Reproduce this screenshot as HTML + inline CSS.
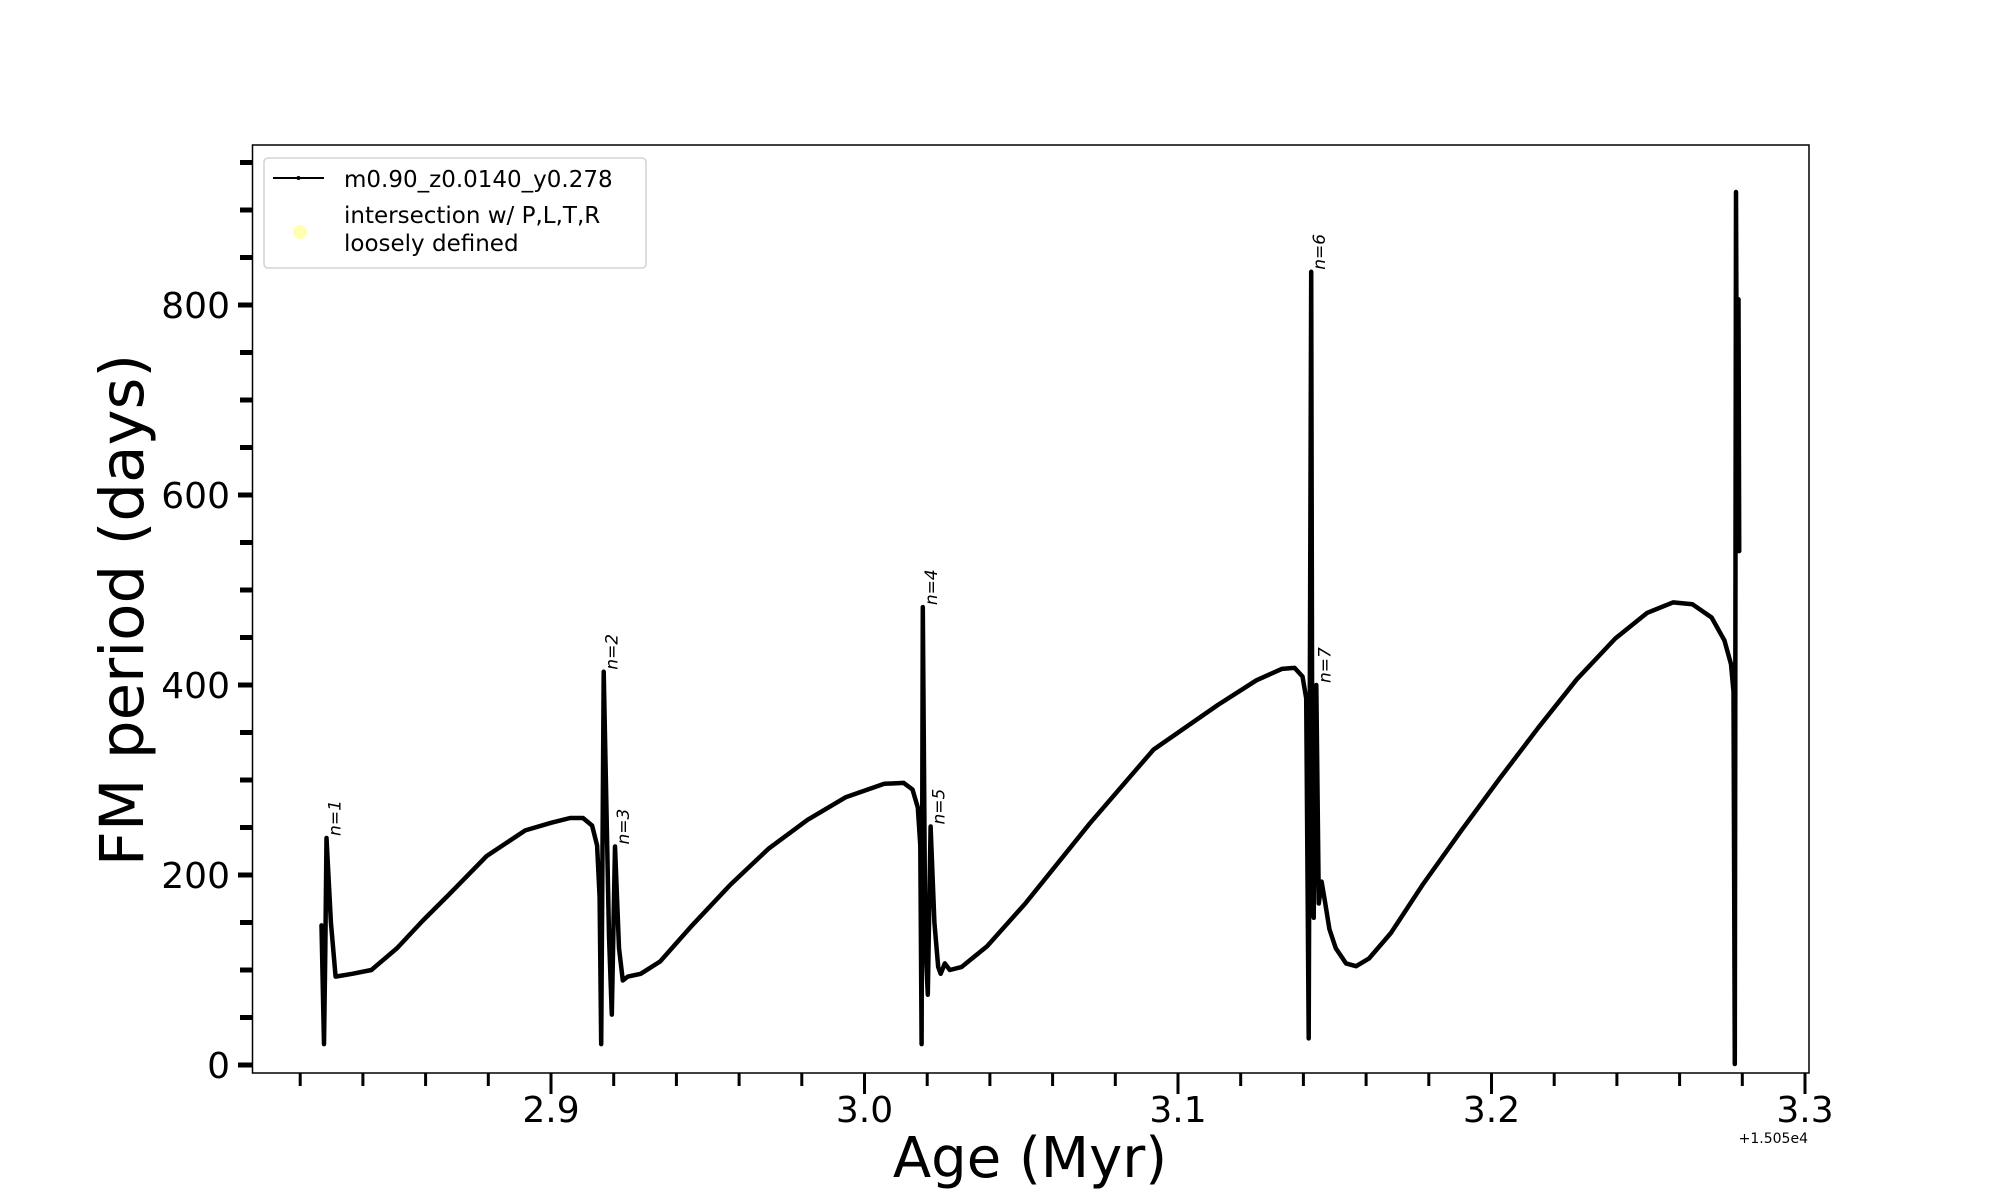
<!DOCTYPE html>
<html><head><meta charset="utf-8"><style>
html,body{margin:0;padding:0;background:#fff;}
svg{display:block;font-family:"DejaVu Sans","Liberation Sans",sans-serif;}
</style></head><body>
<svg id="chart" width="2000" height="1200" viewBox="0 0 2000 1200" xmlns="http://www.w3.org/2000/svg">
<rect x="252.5" y="145" width="1556.5" height="928" fill="none" stroke="#000" stroke-width="1.5"/>
<g id="ticks"></g>
<g id="series"></g>
<g id="annots"></g>
<text transform="translate(143,610) rotate(-90)" text-anchor="middle" font-size="61">FM period (days)</text>
<text x="1030" y="1177" text-anchor="middle" font-size="56">Age (Myr)</text>
<text x="1808" y="1143" text-anchor="end" font-size="14">+1.505e4</text>
<g>
<rect x="264" y="158" width="382" height="110" rx="4" fill="#fff" stroke="#ccc" stroke-width="1.3"/>
<line x1="273" y1="178" x2="324" y2="178" stroke="#000" stroke-width="2"/>
<circle cx="298.5" cy="178" r="2" fill="#000"/>
<text x="344" y="187" font-size="23">m0.90_z0.0140_y0.278</text>
<circle cx="300" cy="232" r="7" fill="#ffffb0"/>
<text x="344" y="223" font-size="23">intersection w/ P,L,T,R</text>
<text x="344" y="251" font-size="23">loosely defined</text>
</g>
</svg>
<script>
const ages = [2.8268,2.8276,2.8280,2.8284,2.8298,2.8313,2.8366,2.8427,2.8509,2.8591,2.8673,2.8795,2.8918,2.9000,2.9061,2.9102,2.9131,2.9147,2.9155,2.9160,2.9168,2.9185,2.9194,2.9204,2.9217,2.9229,2.9245,2.9286,2.9348,2.9450,2.9573,2.9695,2.9818,2.9941,3.0063,3.0125,3.0153,3.0170,3.0178,3.0182,3.0186,3.0194,3.0202,3.0211,3.0223,3.0235,3.0243,3.0256,3.0272,3.0309,3.0391,3.0513,3.0718,3.0922,3.1127,3.1250,3.1331,3.1372,3.1397,3.1409,3.1417,3.1425,3.1429,3.1433,3.1441,3.1449,3.1458,3.1470,3.1483,3.1503,3.1536,3.1568,3.1609,3.1679,3.1781,3.1904,3.2027,3.2149,3.2272,3.2395,3.2497,3.2579,3.2641,3.2702,3.2743,3.2764,3.2772,3.2776,3.2780,3.2784,3.2788,3.2790];
const periods = [147,22,120,239,150,93,96,100,123,152,179,220,247,255,260,260,252,231,177,22,414,136,53,230,123,89,93,96,109,147,190,228,258,282,296,297,290,271,231,22,482,130,74,251,150,103,96,107,100,103,125,170,254,332,379,405,417,418,409,386,28,835,177,155,400,170,193,170,143,123,107,104,112,139,190,247,302,355,406,449,476,487,485,471,447,422,393,1,919,541,806,541];
const yTickVals = [0,200,400,600,800];
const yMinorVals = [50,100,150,250,300,350,450,500,550,650,700,750,850,900,950];
const xTickLabels = ["2.9","3.0","3.1","3.2","3.3"];
const xTickVals = [2.9,3.0,3.1,3.2,3.3];
const xMinorVals = [2.82,2.84,2.86,2.88,2.92,2.94,2.96,2.98,3.02,3.04,3.06,3.08,3.12,3.14,3.16,3.18,3.22,3.24,3.26,3.28];
const annLabels = ["n=1","n=2","n=3","n=4","n=5","n=6","n=7"];
const annAges = [2.8284,2.9168,2.9204,3.0186,3.0211,3.1425,3.1441];
const annPeriods = [239,414,230,482,251,835,400];

const NS="http://www.w3.org/2000/svg";
function xs(v){return 551+(v-2.9)*3135;}
function ys(v){return 1065-v*0.95;}
function mk(tag,attrs,parent){const e=document.createElementNS(NS,tag);for(const k in attrs)e.setAttribute(k,attrs[k]);parent.appendChild(e);return e;}
const ticks=document.getElementById('ticks');
yTickVals.forEach(v=>{
  const l=mk('line',{x1:238,x2:252,y1:ys(v),y2:ys(v),stroke:'#000','stroke-width':5},ticks);
  
  
  const t=mk('text',{x:230,y:ys(v)+13,'text-anchor':'end','font-size':36},ticks);
  
  
  t.textContent=String(v);
});
yMinorVals.forEach(v=>{
  const l=mk('line',{x1:240,x2:252,y1:ys(v),y2:ys(v),stroke:'#000','stroke-width':5},ticks);
  
  
});
xTickVals.forEach((v,i)=>{
  const l=mk('line',{x1:xs(v),x2:xs(v),y1:1073,y2:1094,stroke:'#000','stroke-width':3},ticks);
  
  
  const t=mk('text',{x:xs(v),y:1122,'text-anchor':'middle','font-size':36},ticks);
  
  
  t.textContent=xTickLabels[i];
});
xMinorVals.forEach(v=>{
  const l=mk('line',{x1:xs(v),x2:xs(v),y1:1073,y2:1086,stroke:'#000','stroke-width':3},ticks);
  
  
});
const series=document.getElementById('series');
const pts=ages.map((a,i)=>xs(a).toFixed(1)+','+ys(periods[i]).toFixed(1)).join(' ');
const pl=mk('polyline',{points:pts,fill:'none',stroke:'#000','stroke-width':4.5,'stroke-linejoin':'round','stroke-linecap':'round'},series);


const ann=document.getElementById('annots');
annLabels.forEach((s,i)=>{
  const x=xs(annAges[i])+14, y=ys(annPeriods[i])-2;
  const t=mk('text',{x:x,y:y,transform:`rotate(-90 ${x} ${y})`,'font-size':17,'font-style':'italic'},ann);
  
  
  t.textContent=s;
});
</script>
</body></html>
